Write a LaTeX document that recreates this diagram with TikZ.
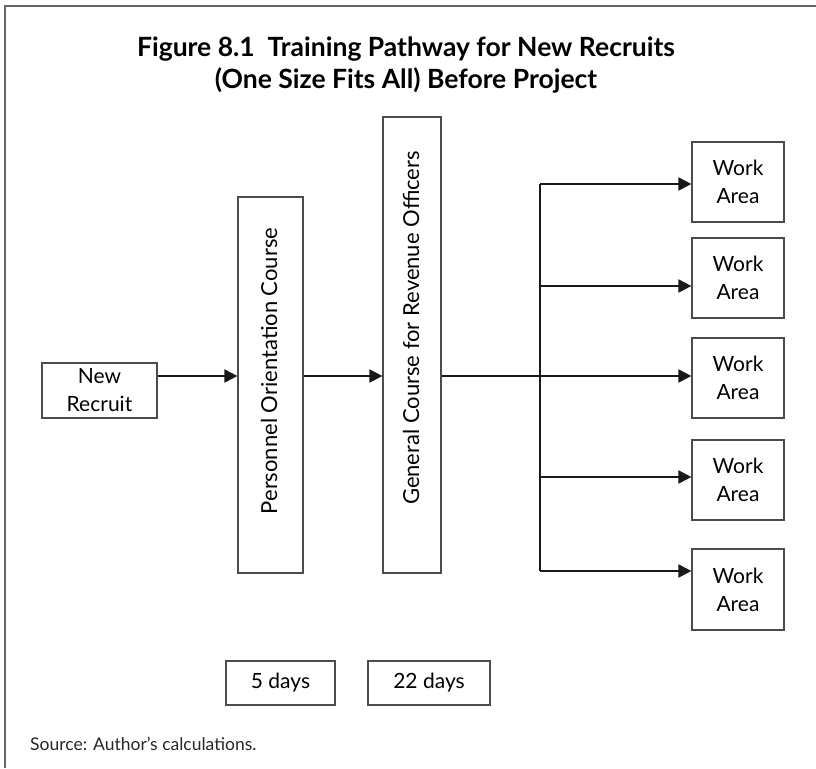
\documentclass[tikz,border=0pt]{standalone}
\usepackage{fontspec}
\setmainfont{Lato}
\usetikzlibrary{arrows.meta}
\tikzset{
  box/.style={draw=black!70, line width=1.2pt, fill=white, inner sep=0pt, align=center, font=\fontsize{21}{28}\selectfont},
  vtext/.style={rotate=90, font=\fontsize{22}{28}\selectfont},
  flow/.style={draw=black!90, line width=2pt, -{Triangle[length=13pt,width=13pt]}},
  plain/.style={draw=black!90, line width=2pt}
}
\begin{document}
\begin{tikzpicture}[x=1pt,y=-1pt]
\useasboundingbox (0,0) rectangle (816,768);
\draw[black!60, line width=1.2pt] (5,768) -- (5,6) -- (816,6);
\node[font=\fontsize{26.5}{32}\selectfont\bfseries, align=center] (title) at (406,65)
  {Figure 8.1\ \ Training Pathway for New Recruits\\(One Size Fits All) Before Project};
\node[box, minimum width=115pt, minimum height=55pt] (recruit) at (99.5,390.5) {New\\Recruit};
\node[box, minimum width=65pt, minimum height=376pt] (poc) at (270.5,385) {};
\node[vtext] (poctext) at (269,371) {Personnel Orientation Course};
\node[box, minimum width=58pt, minimum height=456pt] (gcr) at (412,345) {};
\node[vtext] (gcrtext) at (411,328) {General Course for Revenue Officers};
\node[box, minimum width=92pt, minimum height=80pt] (w1) at (738,182) {Work\\Area};
\node[box, minimum width=92pt, minimum height=80pt] (w2) at (738,278) {Work\\Area};
\node[box, minimum width=92pt, minimum height=80pt] (w3) at (738,378) {Work\\Area};
\node[box, minimum width=92pt, minimum height=80pt] (w4) at (738,480) {Work\\Area};
\node[box, minimum width=92pt, minimum height=81pt] (w5) at (738,589.5) {Work\\Area};
\node[box, minimum width=109pt, minimum height=44pt] (d5) at (280.5,683) {5 days};
\node[box, minimum width=122pt, minimum height=44pt] (d22) at (429,683) {22 days};
\node[anchor=base west, inner sep=0pt, font=\fontsize{17.5}{20}\selectfont, text=black!85] (src) at (30,750) {Source: Author’s calculations.};
\coordinate (top) at (540,184);
\coordinate (bot) at (540,571);
\coordinate (j2) at (540,286);
\coordinate (j4) at (540,477);
\draw[flow] (recruit.east |- 0,376) -- (poc.west |- 0,376);
\draw[flow] (poc.east |- 0,376) -- (gcr.west |- 0,376);
\draw[flow] (gcr.east |- 0,376) -- (w3.west |- 0,376);
\draw[plain] (top) -- (bot);
\draw[flow] (top) -- (w1.west |- top);
\draw[flow] (j2) -- (w2.west |- j2);
\draw[flow] (j4) -- (w4.west |- j4);
\draw[flow] (bot) -- (w5.west |- bot);
\end{tikzpicture}
\end{document}
